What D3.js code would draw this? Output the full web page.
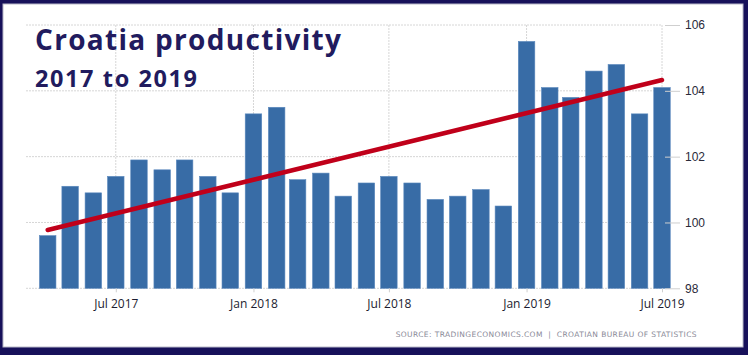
<!DOCTYPE html>
<html>
<head>
<meta charset="utf-8">
<script src="https://cdn.jsdelivr.net/npm/d3@7"></script>
<style>
  html, body { margin: 0; padding: 0; background: #fff; }
  svg { display: block; }
</style>
</head>
<body>
<svg id="chart" width="748" height="355"></svg>
<script>
// ---- data ----
const months = [
  "2017-04","2017-05","2017-06","2017-07","2017-08","2017-09","2017-10","2017-11","2017-12",
  "2018-01","2018-02","2018-03","2018-04","2018-05","2018-06","2018-07","2018-08","2018-09",
  "2018-10","2018-11","2018-12","2019-01","2019-02","2019-03","2019-04","2019-05","2019-06","2019-07"
];
const productivity = [
  99.6, 101.1, 100.9, 101.4, 101.9, 101.6, 101.9, 101.4, 100.9,
  103.3, 103.5, 101.3, 101.5, 100.8, 101.2, 101.4, 101.2, 100.7,
  100.8, 101.0, 100.5, 105.5, 104.1, 103.8, 104.6, 104.8, 103.3, 104.1
];
const trendMonths = ["2017-04", "2019-07"];
const trendValues = [99.77, 104.33];
const yTicks = [98, 100, 102, 104, 106];
const xTickMonths = ["2017-07", "2018-01", "2018-07", "2019-01", "2019-07"];
const titleText = "Croatia productivity";
const subtitleText = "2017 to 2019";
const sourceText = "SOURCE: TRADINGECONOMICS.COM  |  CROATIAN BUREAU OF STATISTICS";

// ---- setup ----
const W = 748, H = 355;
const svg = d3.select("#chart");
const parse = d3.timeParse("%Y-%m");
const fmt = d3.timeFormat("%b %Y");

// frame
svg.append("rect").attr("x", 0).attr("y", 0).attr("width", W).attr("height", H).attr("fill", "#17115a");
svg.append("rect").attr("x", 3).attr("y", 4).attr("width", 740).attr("height", 343)
  .attr("fill", "#ffffff").attr("stroke", "#b8b8c8").attr("stroke-width", 1);

const plot = { left: 26, right: 662, top: 25, bottom: 288.3 };

const x = d3.scaleTime()
  .domain([new Date(2017, 2, 3), new Date(2019, 6, 1)])
  .range([plot.left, plot.right]);
const y = d3.scaleLinear()
  .domain([98, 106])
  .range([plot.bottom, plot.top]);

const barW = 16.5;

// gridlines
const grid = svg.append("g");
grid.selectAll("line.h").data(yTicks).enter().append("line")
  .attr("x1", plot.left).attr("x2", plot.right)
  .attr("y1", d => y(d)).attr("y2", d => y(d))
  .attr("stroke", "#d6d6d6").attr("stroke-width", 1).attr("stroke-dasharray", "2,1");
grid.selectAll("line.v").data(xTickMonths.map(parse)).enter().append("line")
  .attr("x1", d => x(d)).attr("x2", d => x(d))
  .attr("y1", plot.top).attr("y2", plot.bottom)
  .attr("stroke", "#d6d6d6").attr("stroke-width", 1).attr("stroke-dasharray", "2,1");

// bars
svg.append("g").selectAll("rect").data(months.map((m, i) => ({ d: parse(m), v: productivity[i] })))
  .enter().append("rect")
  .attr("x", d => x(d.d) - barW / 2)
  .attr("width", barW)
  .attr("y", d => y(d.v))
  .attr("height", d => y(98) - y(d.v))
  .attr("fill", "#386ca6")
  .attr("stroke", "#5a88bd")
  .attr("stroke-width", 0.6);

// trend line
const trend = trendMonths.map((m, i) => [parse(m), trendValues[i]]);
svg.append("path")
  .attr("d", d3.line().x(d => x(d[0])).y(d => y(d[1]))(trend))
  .attr("fill", "none")
  .attr("stroke", "#c0001a")
  .attr("stroke-width", 4.5)
  .attr("stroke-linecap", "round");

// y axis (right)
const yAxis = d3.axisRight(y).tickValues(yTicks).tickSize(15).tickPadding(5).tickFormat(d3.format("d"));
const yg = svg.append("g").attr("transform", `translate(${plot.right + 3},0)`).call(yAxis);
yg.select(".domain").remove();
yg.selectAll(".tick line").attr("stroke", "#cfcfcf");
yg.selectAll(".tick text").attr("font-family", "'Liberation Sans', Arial, sans-serif")
  .attr("font-size", 12).attr("fill", "#2a2a3a");

// x axis
const xAxis = d3.axisBottom(x).tickValues(xTickMonths.map(parse)).tickSize(4).tickPadding(7).tickFormat(fmt);
const xg = svg.append("g").attr("transform", `translate(0,${plot.bottom})`).call(xAxis);
xg.select(".domain").remove();
xg.selectAll(".tick line").attr("stroke", "#cfcfcf");
xg.selectAll(".tick text").attr("font-family", "'Open Sans', sans-serif")
  .attr("font-size", 12).attr("fill", "#1c1c30");

// titles
svg.append("text").text(titleText)
  .attr("x", 35).attr("y", 50)
  .attr("font-family", "'Open Sans', sans-serif").attr("font-weight", 700)
  .attr("font-size", 28).attr("letter-spacing", 1.3).attr("fill", "#211b5e");
svg.append("text").text(subtitleText)
  .attr("x", 35).attr("y", 87)
  .attr("font-family", "'Open Sans', sans-serif").attr("font-weight", 700)
  .attr("font-size", 23.5).attr("letter-spacing", 1.6).attr("fill", "#211b5e");

// source
svg.append("text").text(sourceText)
  .attr("x", 697).attr("y", 337).attr("text-anchor", "end")
  .attr("font-family", "'DejaVu Sans', sans-serif")
  .attr("font-size", 7.5).attr("letter-spacing", 0.4)
  .attr("fill", "#8a8a98").attr("xml:space", "preserve");
</script>
</body>
</html>
